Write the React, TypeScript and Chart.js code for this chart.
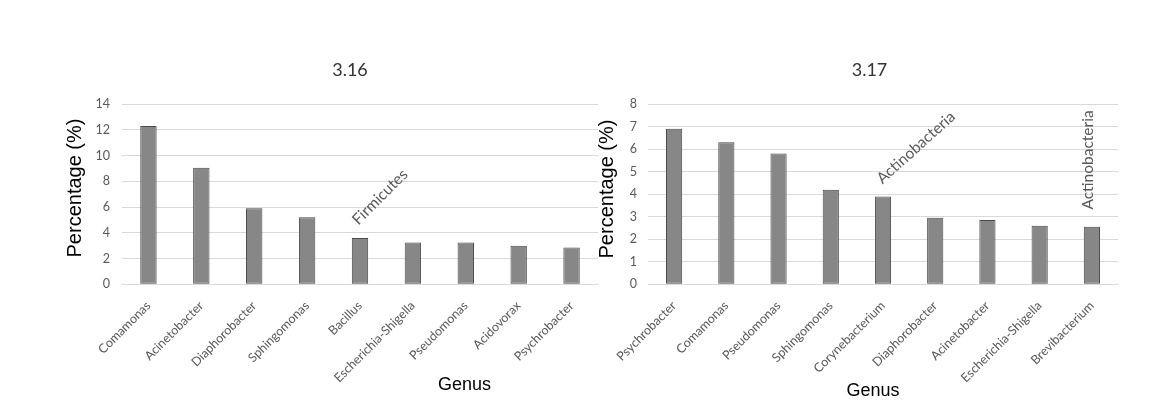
import React, { useEffect, useRef } from 'react';
import { Chart, registerables } from 'chart.js';

Chart.register(...registerables);

// ---- Data ----
const genera316 = ['Comamonas', 'Acinetobacter', 'Diaphorobacter', 'Sphingomonas', 'Bacillus', 'Escherichia-Shigella', 'Pseudomonas', 'Acidovorax', 'Psychrobacter'];
const values316 = [12.3, 9.05, 5.9, 5.2, 3.6, 3.25, 3.25, 3.0, 2.85];

const genera317 = ['Psychrobacter', 'Comamonas', 'Pseudomonas', 'Sphingomonas', 'Corynebacterium', 'Diaphorobacter', 'Acinetobacter', 'Escherichia-Shigella', 'Brevibacterium'];
const values317 = [6.9, 6.3, 5.8, 4.2, 3.9, 2.95, 2.85, 2.6, 2.55];

const yMax316 = 14;
const yStep316 = 2;
const yMax317 = 8;
const yStep317 = 1;

const title316 = '3.16';
const title317 = '3.17';
const yAxisTitle = 'Percentage (%)';
const xAxisTitle = 'Genus';
const note316 = 'Firmicutes';
const note317 = 'Actinobacteria';

// ---- Styles ----
const BAR_FILL = '#878787';
const BAR_BORDER = '#4a4a4a';
const GRID = '#d9d9d9';
const TICK_COLOR = '#595959';
const TICK_FONT = 'Lato, "Open Sans", sans-serif';
const ARIAL = '"Liberation Sans", Arial, sans-serif';

type TextItem = { text: string; x: number; y: number; angle?: number; font: string; color: string };

const freeTextPlugin = {
  id: 'freeText',
  afterDraw(chart: any, _args: any, opts: any) {
    const ctx = chart.ctx as CanvasRenderingContext2D;
    const items: TextItem[] = (opts && opts.items) || [];
    items.forEach((it) => {
      ctx.save();
      ctx.translate(it.x, it.y);
      ctx.rotate(((it.angle || 0) * Math.PI) / 180);
      ctx.font = it.font;
      ctx.fillStyle = it.color;
      ctx.textAlign = 'center';
      ctx.textBaseline = 'middle';
      ctx.fillText(it.text, 0, 0);
      ctx.restore();
    });
  },
};

function makeConfig(
  labels: string[],
  values: number[],
  yMax: number,
  yStep: number,
  yWidth: number,
  rightPad: number,
  tickPad: number,
  texts: TextItem[]
): any {
  return {
    type: 'bar',
    data: {
      labels,
      datasets: [
        {
          data: values,
          backgroundColor: BAR_FILL,
          borderColor: BAR_BORDER,
          borderWidth: 1,
          borderSkipped: false,
          categoryPercentage: 1,
          barPercentage: 0.31,
        },
      ],
    },
    plugins: [freeTextPlugin],
    options: {
      responsive: false,
      animation: false,
      devicePixelRatio: 1,
      layout: { padding: { left: 0, top: 104, right: rightPad, bottom: 0 } },
      plugins: {
        legend: { display: false },
        tooltip: { enabled: false },
        title: { display: false },
        freeText: { items: texts },
      },
      scales: {
        x: {
          grid: { display: false, drawTicks: false },
          border: { display: false },
          ticks: {
            autoSkip: false,
            minRotation: 45,
            maxRotation: 45,
            padding: 14,
            color: TICK_COLOR,
            font: { family: TICK_FONT, size: 12.5 },
          },
          afterFit: (s: any) => {
            s.height = 417 - 284.3;
          },
        },
        y: {
          min: 0,
          max: yMax,
          ticks: {
            stepSize: yStep,
            padding: tickPad,
            color: TICK_COLOR,
            font: { family: TICK_FONT, size: 12.5 },
          },
          grid: { color: GRID, lineWidth: 1, drawTicks: false },
          border: { display: false },
          afterFit: (s: any) => {
            s.width = yWidth;
          },
        },
      },
    },
  };
}

function ChartCanvas({ config, width, left }: { config: any; width: number; left: number }) {
  const ref = useRef<HTMLCanvasElement | null>(null);
  useEffect(() => {
    if (!ref.current) return;
    const chart = new Chart(ref.current, config);
    return () => chart.destroy();
  }, [config]);
  return (
    <canvas
      ref={ref}
      width={width}
      height={417}
      style={{ position: 'absolute', left, top: 0, width, height: 417 }}
    />
  );
}

const titleFont = `18px ${TICK_FONT}`;
const noteFont = `15.5px ${TICK_FONT}`;
const yTitleFont = `20px ${ARIAL}`;
const xTitleFont = `18px ${ARIAL}`;

const config316 = makeConfig(genera316, values316, yMax316, yStep316, 122, 12, 12, [
  { text: title316, x: 350, y: 70, font: titleFont, color: '#333333' },
  { text: yAxisTitle, x: 75.5, y: 188, angle: -90, font: yTitleFont, color: '#000000' },
  { text: xAxisTitle, x: 464.5, y: 385, font: xTitleFont, color: '#000000' },
  { text: note316, x: 380, y: 197, angle: -45, font: noteFont, color: TICK_COLOR },
]);

const config317 = makeConfig(genera317, values317, yMax317, yStep317, 58, 32, 11, [
  { text: title317, x: 279.5, y: 70, font: titleFont, color: '#333333' },
  { text: yAxisTitle, x: 17, y: 189, angle: -90, font: yTitleFont, color: '#000000' },
  { text: xAxisTitle, x: 283, y: 391.5, font: xTitleFont, color: '#000000' },
  { text: note317, x: 326, y: 147.5, angle: -42, font: noteFont, color: TICK_COLOR },
  { text: note317, x: 497.5, y: 160, angle: -90, font: noteFont, color: TICK_COLOR },
]);

export default function App() {
  useEffect(() => {
    document.body.style.margin = '0';
  }, []);
  return (
    <div style={{ position: 'absolute', left: 0, top: 0, width: 1150, height: 417, background: '#ffffff', overflow: 'hidden' }}>
      <ChartCanvas config={config316} width={610} left={0} />
      <ChartCanvas config={config317} width={560} left={590} />
    </div>
  );
}
